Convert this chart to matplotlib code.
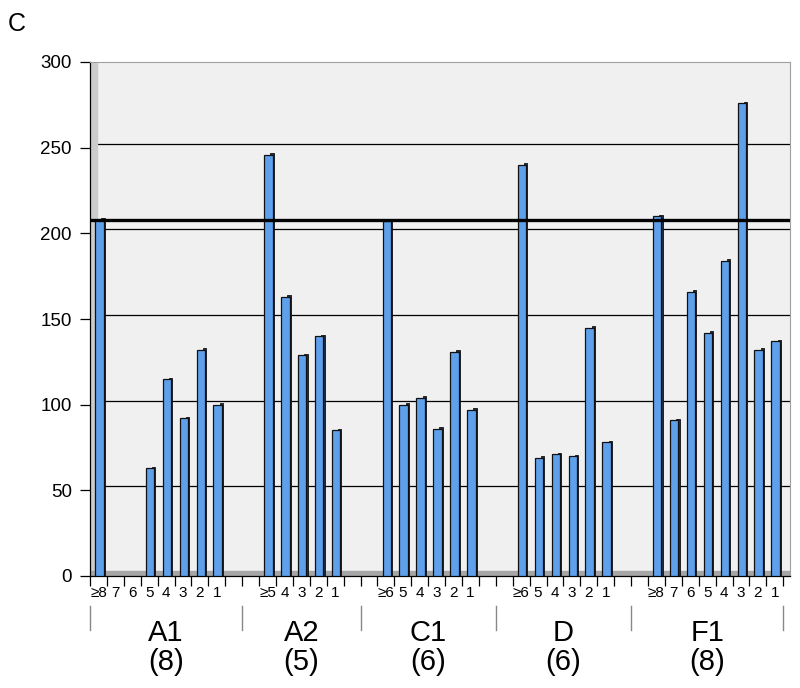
import matplotlib
matplotlib.use("Agg")
import matplotlib.pyplot as plt
import matplotlib.transforms as mtrans
import numpy as np

plt.rcParams['font.family'] = ['Liberation Sans', 'DejaVu Sans']

groups = ["A1", "A2", "C1", "D", "F1"]
group_counts = ["(8)", "(5)", "(6)", "(6)", "(8)"]
sub_labels = [
    ["≥8", "7", "6", "5", "4", "3", "2", "1"],
    ["≥5", "4", "3", "2", "1"],
    ["≥6", "5", "4", "3", "2", "1"],
    ["≥6", "5", "4", "3", "2", "1"],
    ["≥8", "7", "6", "5", "4", "3", "2", "1"],
]
values = [
    [208, 0, 0, 63, 115, 92, 132, 100],
    [246, 163, 129, 140, 85],
    [207, 100, 104, 86, 131, 97],
    [240, 69, 71, 70, 145, 78],
    [210, 91, 166, 142, 184, 276, 132, 137],
]
reference_line = 208
y_ticks = [0, 50, 100, 150, 200, 250, 300]
gap = 2  # empty category slots between groups

# lay the groups out on one category axis
xs, hs, labels, seps = [], [], [], [-0.5]
pos = 0
for g, (labs, vals) in enumerate(zip(sub_labels, values)):
    for lab, v in zip(labs, vals):
        xs.append(pos)
        hs.append(v)
        labels.append(lab)
        pos += 1
    if g < len(groups) - 1:
        seps.append(pos - 0.5 + gap / 2)
        pos += gap
    else:
        seps.append(pos - 0.5)
n_slots = pos
xs = np.array(xs)
hs = np.array(hs, dtype=float)
centers = [(a + b) / 2 for a, b in zip(seps[:-1], seps[1:])]

fig = plt.figure(figsize=(8, 6.88), dpi=100)
ax = fig.add_axes([90 / 800, 1 - 576 / 688, 700 / 800, 514 / 688])
ax.set_xlim(-0.5, n_slots - 0.1)
ax.set_ylim(0, 300)
ax.set_facecolor('#f0f0f0')

# 3d-ish back wall offset
back = ax.transData + mtrans.ScaledTranslation(0.05, 0.04, fig.dpi_scale_trans)
for v in y_ticks[1:-1]:
    ax.plot([-0.5, n_slots], [v, v], color='black', lw=0.9, transform=back, zorder=1)

# left wall and floor
ax.axvspan(-0.5, -0.08, color='#cccccc', zorder=1.5)
ax.axhspan(0, 3.2, color='#a6a6a6', zorder=1.5)

mask = hs > 0
ax.bar(xs[mask] + 0.27, hs[mask] + 0.8, width=0.2, color='#1c2f45', zorder=2.5,
       edgecolor='#111111', linewidth=0.6)
ax.bar(xs[mask] + 0.05, hs[mask], width=0.5, color='#5fa0ec', zorder=3,
       edgecolor='#111111', linewidth=0.9)

ax.axhline(reference_line, color='black', lw=2.4, zorder=4)

for s in ['top', 'right']:
    ax.spines[s].set_color('#a0a0a0')
ax.spines['left'].set_color('black')
ax.spines['bottom'].set_color('black')
ax.spines['left'].set_linewidth(0.9)
ax.spines['bottom'].set_linewidth(0.9)

ax.set_yticks(y_ticks)
ax.set_yticklabels([str(v) for v in y_ticks], fontsize=13.5)
ax.tick_params(axis='y', length=7, width=0.9, pad=6)

ax.set_xticks(xs)
ax.set_xticklabels([])
ax.set_xticks(np.arange(-0.5, n_slots, 1.0), minor=True)
ax.tick_params(axis='x', which='major', length=0)
ax.tick_params(axis='x', which='minor', length=7, width=0.9)

bt = mtrans.blended_transform_factory(ax.transData, ax.transAxes)
for x, lab in zip(xs, labels):
    ax.text(x, -0.033, lab, transform=bt, ha='center', va='center', fontsize=11)

for s in seps:
    ax.plot([s, s], [-0.058, -0.105], color='#888888', lw=1.0, transform=bt, clip_on=False)
for c, name, cnt in zip(centers, groups, group_counts):
    ax.text(c, -0.11, name, transform=bt, ha='center', va='center', fontsize=21)
    ax.text(c, -0.167, cnt, transform=bt, ha='center', va='center', fontsize=21)

fig.text(8 / 800, 1 - 24 / 688, "C", fontsize=18, ha='left', va='center')

fig.savefig("out.png", dpi=100)
